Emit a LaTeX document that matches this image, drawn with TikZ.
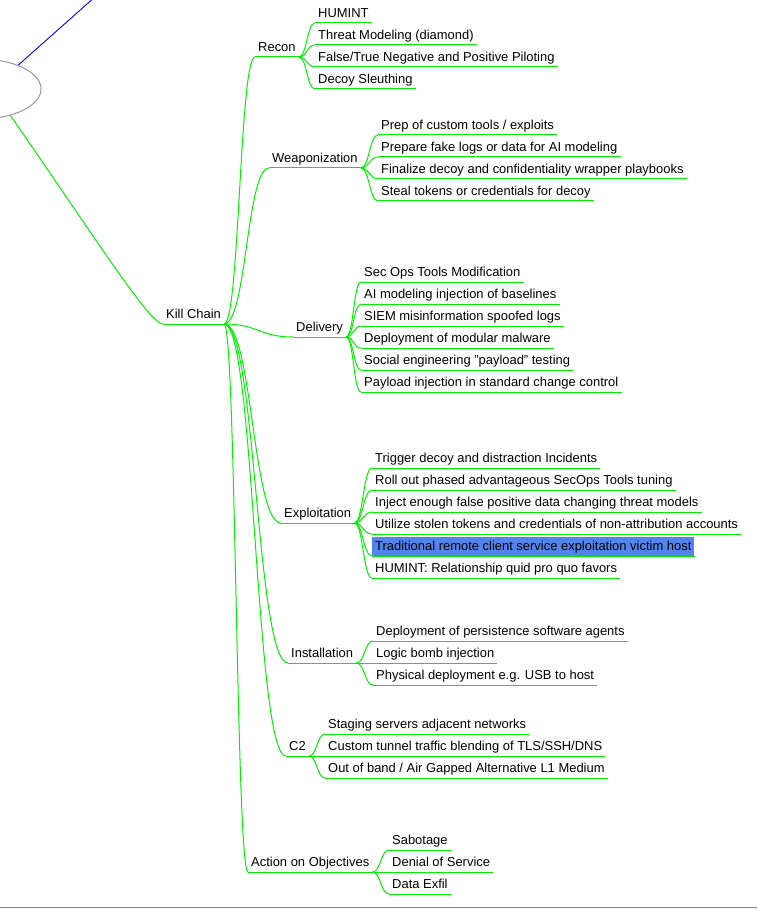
\documentclass[tikz,border=0pt]{standalone}
\usepackage{fontspec}
\setmainfont{Liberation Sans}
\usetikzlibrary{calc,shapes.geometric}
\definecolor{edgegreen}{RGB}{0,240,0}
\definecolor{selblue}{RGB}{82,132,238}
\definecolor{ovalgray}{RGB}{150,150,150}
\definecolor{linkblue}{RGB}{20,20,255}
\newcommand\mmleaf[4][]{\node[txt,#1] (#2) at (#3) {#4};\draw[uline] (#2.south west) -- (#2.south east);}
\begin{document}
\begin{tikzpicture}[x=1pt,y=-1pt,
  txt/.style={anchor=south west, inner xsep=3pt, inner ysep=3pt, text height=11pt, text depth=2pt, font=\fontsize{12.95}{14}\selectfont},
  uline/.style={draw=edgegreen, line width=1pt},
  fork/.style={to path={let \p1=(\tikztostart),\p2=(\tikztotarget),\n1={0.5*\x1+0.5*\x2} in .. controls (\n1,\y1) and (\n1,\y2) .. (\tikztotarget)}}]
\useasboundingbox (0,0) rectangle (757,909);
\clip (0,0) rectangle (757,909);
% bottom bar
\fill[black!6] (0,907.5) rectangle (757,909);
\draw[black!45, line width=1pt] (0,907) -- (757,907);
% root
\node[ellipse, draw=ovalgray, line width=1pt, minimum width=122pt, minimum height=60pt, inner sep=0pt] (root) at (-20,89) {};
\coordinate (bluend) at (96,-4);
\draw[linkblue, line width=1pt] (root.32) -- (bluend);
% kill chain
\mmleaf{kc}{163,324}{Kill Chain}
\draw[uline] (root.-41) .. controls (100,245) and (150,324) .. (kc.south west);
% level 2
\mmleaf{recon}{255,57}{Recon}
\mmleaf{weap}{269,168}{Weaponization}
\mmleaf{deliv}{293,337}{Delivery}
\mmleaf{expl}{281,523}{Exploitation}
\mmleaf{inst}{288,663}{Installation}
\mmleaf{ctwo}{286,756}{C2}
\mmleaf{act}{248,872}{Action on Objectives}
\foreach \c in {recon,weap,deliv,expl,inst,ctwo,act}
  \draw[uline] (kc.south east) to[fork] (\c.south west);
% recon leaves
\mmleaf{r1}{315,23}{HUMINT}
\mmleaf{r2}{315,45}{Threat Modeling (diamond)}
\mmleaf{r3}{315,67}{False/True Negative and Positive Piloting}
\mmleaf{r4}{315,89}{Decoy Sleuthing}
\foreach \c in {r1,r2,r3,r4} \draw[uline] (recon.south east) to[fork] (\c.south west);
% weaponization leaves
\mmleaf{w1}{378,135}{Prep of custom tools / exploits}
\mmleaf{w2}{378,157}{Prepare fake logs or data for AI modeling}
\mmleaf{w3}{378,179}{Finalize decoy and confidentiality wrapper playbooks}
\mmleaf{w4}{378,201}{Steal tokens or credentials for decoy}
\foreach \c in {w1,w2,w3,w4} \draw[uline] (weap.south east) to[fork] (\c.south west);
% delivery leaves
\mmleaf{d1}{361,282}{Sec Ops Tools Modification}
\mmleaf{d2}{361,304}{AI modeling injection of baselines}
\mmleaf{d3}{361,326}{SIEM misinformation spoofed logs}
\mmleaf{d4}{361,348}{Deployment of modular malware}
\mmleaf{d5}{361,370}{Social engineering \char34 payload\char34\ testing}
\mmleaf{d6}{361,392}{Payload injection in standard change control}
\foreach \c in {d1,d2,d3,d4,d5,d6} \draw[uline] (deliv.south east) to[fork] (\c.south west);
% exploitation leaves
\mmleaf{e1}{372,468}{Trigger decoy and distraction Incidents}
\mmleaf{e2}{372,490}{Roll out phased advantageous SecOps Tools tuning}
\mmleaf{e3}{372,512}{Inject enough false positive data changing threat models}
\mmleaf{e4}{372,534}{Utilize stolen tokens and credentials of non-attribution accounts}
\mmleaf[fill=selblue]{e5}{372,556}{Traditional remote client service exploitation victim host}
\mmleaf{e6}{372,578}{HUMINT: Relationship quid pro quo favors}
\foreach \c in {e1,e2,e3,e4,e5,e6} \draw[uline] (expl.south east) to[fork] (\c.south west);
% installation leaves
\mmleaf{i1}{373,641}{Deployment of persistence software agents}
\mmleaf{i2}{373,663}{Logic bomb injection}
\mmleaf{i3}{373,685}{Physical deployment e.g. USB to host}
\foreach \c in {i1,i2,i3} \draw[uline] (inst.south east) to[fork] (\c.south west);
% c2 leaves
\mmleaf{c1}{325,734}{Staging servers adjacent networks}
\mmleaf{c2}{325,756}{Custom tunnel traffic blending of TLS/SSH/DNS}
\mmleaf{c3}{325,778}{Out of band / Air Gapped Alternative L1 Medium}
\foreach \c in {c1,c2,c3} \draw[uline] (ctwo.south east) to[fork] (\c.south west);
% action leaves
\mmleaf{a1}{389,850}{Sabotage}
\mmleaf{a2}{389,872}{Denial of Service}
\mmleaf{a3}{389,894}{Data Exfil}
\foreach \c in {a1,a2,a3} \draw[uline] (act.south east) to[fork] (\c.south west);
\end{tikzpicture}
\end{document}
